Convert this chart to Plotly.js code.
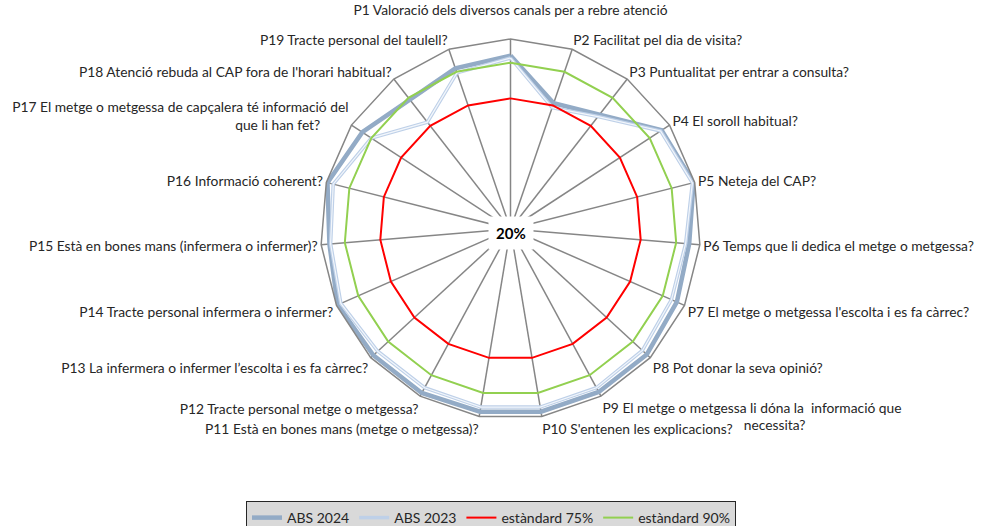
<!DOCTYPE html>
<html>
<head>
<meta charset="utf-8">
<script src="https://cdn.plot.ly/plotly-3.0.1.min.js"></script>
<style>html,body{margin:0;padding:0;background:#fff;width:982px;height:526px;overflow:hidden;}#chart{width:982px;height:540px;}</style>
</head>
<body>
<div id="chart"></div>
<script>
const categories = [
  "P1 Valoració dels diversos canals per a rebre atenció<br>",
  "P2 Facilitat pel dia de visita?",
  "P3 Puntualitat per entrar a consulta?",
  "P4 El soroll habitual?",
  "P5 Neteja del CAP?",
  "P6 Temps que li dedica el metge o metgessa?",
  "P7 El metge o metgessa l'escolta i es fa càrrec?",
  "P8 Pot donar la seva opinió?",
  "P9 El metge o metgessa li dóna la\u00A0 informació que<br>" + "\u00A0".repeat(40) + "necessita?",
  "P10 S'entenen les explicacions?",
  "P11 Està en bones mans (metge o metgessa)?",
  "P12 Tracte personal metge o metgessa?",
  "P13 La infermera o infermer l’escolta i es fa càrrec?",
  "P14 Tracte personal infermera o infermer?",
  "P15 Està en bones mans (infermera o infermer)?",
  "P16 Informació coherent?",
  "P17 El metge o metgessa de capçalera té informació del<br>que li han fet?" + "\u00A0".repeat(8),
  "P18 Atenció rebuda al CAP fora de l'horari habitual?",
  "P19 Tracte personal del taulell?"
];
const abs2024 = [93, 76, 81, 96, 99.5, 95.5, 96.5, 98, 98, 98, 98, 98.5, 98.5, 99.5, 96.5, 99.5, 94.5, 89, 91.5];
const abs2023 = [92, 74, 80, 95.5, 99, 94, 94, 95.5, 96, 96, 96, 96, 96, 98, 96, 97, 90, 77, 89.5];
const std75 = [75, 75, 75, 75, 75, 75, 75, 75, 75, 75, 75, 75, 75, 75, 75, 75, 75, 75, 75];
const std90 = [90, 90, 90, 90, 90, 90, 90, 90, 90, 90, 90, 90, 90, 90, 90, 90, 90, 90, 90];
const seriesNames = ["ABS 2024", "ABS 2023", "estàndard 75%", "estàndard 90%"];
const centerLabel = "20%";

function closed(arr) { return arr.concat([arr[0]]); }
const theta = closed(categories);

const traces = [
  {type: 'scatterpolar', mode: 'lines', name: seriesNames[0], r: closed(abs2024), theta: theta,
   line: {color: '#93abc6', width: 4.5}},
  {type: 'scatterpolar', mode: 'lines', name: seriesNames[1], r: closed(abs2023), theta: theta,
   line: {color: '#bed0e8', width: 3.5}},
  {type: 'scatterpolar', mode: 'lines', name: seriesNames[1], r: closed(abs2023), theta: theta,
   line: {color: '#f2f6fb', width: 1.2}, showlegend: false},
  {type: 'scatterpolar', mode: 'lines', name: seriesNames[2], r: closed(std75), theta: theta,
   line: {color: '#ff0000', width: 2}},
  {type: 'scatterpolar', mode: 'lines', name: seriesNames[3], r: closed(std90), theta: theta,
   line: {color: '#92d050', width: 2}}
];

const W = 982, H = 540;
const cx = 510.5, cy = 229, R = 190;

const layout = {
  width: W, height: H,
  margin: {l: 0, r: 0, t: 0, b: 0},
  paper_bgcolor: '#ffffff',
  font: {family: 'Lato, "Noto Sans", sans-serif', size: 13.8, color: '#262626'},
  showlegend: true,
  legend: {
    orientation: 'h', x: 0.5, xanchor: 'center', y: (H - 501) / H, yanchor: 'top',
    bgcolor: '#d9d9d9', bordercolor: '#262626', borderwidth: 1,
    font: {size: 14, color: '#262626'}, itemwidth: 30, tracegroupgap: 0
  },
  polar: {
    domain: {x: [(cx - R) / W, (cx + R) / W], y: [(H - cy - R) / H, (H - cy + R) / H]},
    bgcolor: 'rgba(0,0,0,0)',
    gridshape: 'linear',
    radialaxis: {range: [20, 100], visible: false, showgrid: false},
    angularaxis: {
      type: 'category', categoryarray: categories,
      rotation: 90, direction: 'clockwise',
      showline: true, linecolor: '#868686', linewidth: 1.5,
      showgrid: true, gridcolor: '#868686', gridwidth: 1.5,
      ticks: '',
      tickfont: {size: 13.8, color: '#262626'}
    }
  },
  annotations: [{
    text: '<b>' + centerLabel + '</b>', showarrow: false,
    xref: 'paper', yref: 'paper', x: (cx + 1) / W, y: (H - cy - 4) / H,
    xanchor: 'center', yanchor: 'middle',
    bgcolor: '#ffffff', borderpad: 7,
    font: {size: 15, color: '#000000', family: 'Lato, "Noto Sans", sans-serif'}
  }]
};

Plotly.newPlot('chart', traces, layout, {staticPlot: true, displayModeBar: false});
</script>
</body>
</html>
